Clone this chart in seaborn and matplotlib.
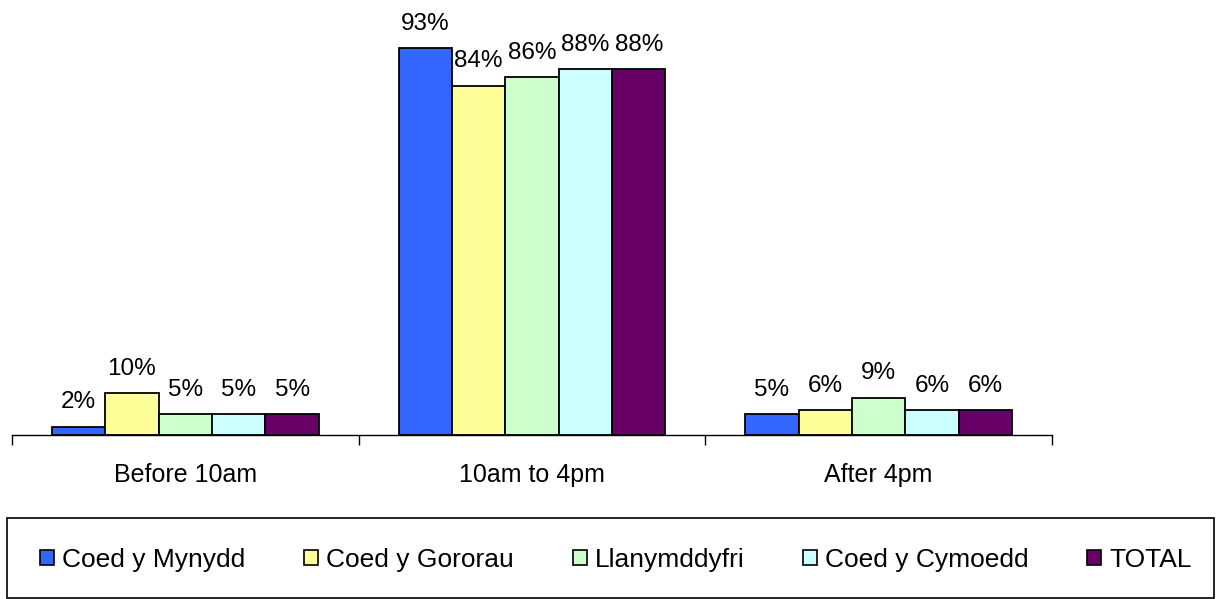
import numpy as np
import pandas as pd
import seaborn as sns
import matplotlib
import matplotlib.pyplot as plt
from matplotlib.patches import Patch, Rectangle

# data
periods = ['Before 10am', '10am to 4pm', 'After 4pm']
sites = ['Coed y Mynydd', 'Coed y Gororau', 'Llanymddyfri', 'Coed y Cymoedd', 'TOTAL']
coed_y_mynydd = [2, 93, 5]
coed_y_gororau = [10, 84, 6]
llanymddyfri = [5, 86, 9]
coed_y_cymoedd = [5, 88, 6]
total = [5, 88, 6]
colours = ['#3366FF', '#FFFF99', '#CCFFCC', '#CCFFFF', '#660066']

sns.set_style('white')
matplotlib.rcParams.update({'font.family': ['Liberation Sans', 'DejaVu Sans'], 'font.size': 18,
                            'text.color': 'black', 'xtick.color': 'black'})

rows = []
for site, vals in zip(sites, [coed_y_mynydd, coed_y_gororau, llanymddyfri, coed_y_cymoedd, total]):
    for p, v in zip(periods, vals):
        rows.append({'Period': p, 'Site': site, 'Pct': v})
df = pd.DataFrame(rows)

fig = plt.figure(figsize=(12.18, 5.99), dpi=100)
ax = fig.add_axes([12 / 1218, (599 - 435) / 599, 1040 / 1218, 435 / 599])

sns.barplot(data=df, x='Period', y='Pct', hue='Site', order=periods, hue_order=sites,
            palette=colours, saturation=1, width=0.77, edgecolor='black', linewidth=1.3,
            errorbar=None, legend=False, ax=ax)

for cont in ax.containers:
    ax.bar_label(cont, labels=['%d%%' % v for v in cont.datavalues], padding=9.5, fontsize=17.5)

ax.set_ylim(0, 104.6)
ax.set_xlim(-0.5, 2.5)
ax.set_xlabel('')
ax.set_ylabel('')
ax.set_yticks([])
for s in ['left', 'right', 'top']:
    ax.spines[s].set_visible(False)
ax.spines['bottom'].set_color('black')
ax.spines['bottom'].set_linewidth(1)
ax.set_xticks(range(3))
ax.set_xticklabels(periods, fontsize=18)
ax.set_xticks([-0.5, 0.5, 1.5, 2.5], minor=True)
ax.tick_params(axis='x', which='major', length=0, pad=20)
ax.tick_params(axis='x', which='minor', length=7, width=1, color='black', direction='out', bottom=True)

# legend box
fig.patches.append(Rectangle((7 / 1218, 1 / 599), 1207 / 1218, 80 / 599, transform=fig.transFigure,
                             facecolor='white', edgecolor='black', linewidth=1.2))
handles = [Patch(facecolor=c, edgecolor='black', linewidth=1.2) for c in colours]
leg = fig.legend(handles, sites, loc='center', ncol=5,
                 bbox_to_anchor=(616 / 1218, 39 / 599),
                 frameon=False, fontsize=19,
                 handlelength=0.53, handleheight=0.53, handletextpad=0.3,
                 columnspacing=2.23, borderaxespad=0)

fig.savefig('out.png', dpi=100)
